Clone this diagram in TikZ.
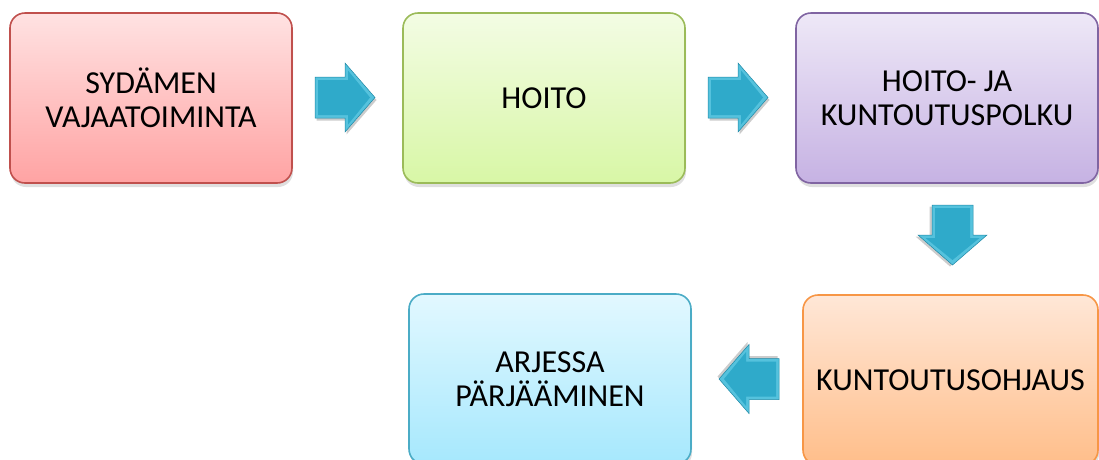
\documentclass[tikz,border=0pt]{standalone}
\usepackage{fontspec}
\setmainfont{Carlito}
\usetikzlibrary{shadows}
\definecolor{redtop}{HTML}{FFE2E2}
\definecolor{redbot}{HTML}{FFA3A3}
\definecolor{redline}{HTML}{C0504D}
\definecolor{grntop}{HTML}{F3FCE4}
\definecolor{grnbot}{HTML}{D8F7A6}
\definecolor{grnline}{HTML}{9BBB59}
\definecolor{purtop}{HTML}{EEE8F7}
\definecolor{purbot}{HTML}{C6B2E3}
\definecolor{purline}{HTML}{8064A2}
\definecolor{orgtop}{HTML}{FFE7D7}
\definecolor{orgbot}{HTML}{FFBE8A}
\definecolor{orgline}{HTML}{F79646}
\definecolor{blutop}{HTML}{E2F8FF}
\definecolor{blubot}{HTML}{A6E8FD}
\definecolor{bluline}{HTML}{4BACC6}
\definecolor{arrmain}{HTML}{2FAACA}
\definecolor{arrlight}{HTML}{55C2DD}
\definecolor{arrdark}{HTML}{1E88A5}
\begin{document}
\begin{tikzpicture}[x=1pt,y=-1pt,
  box/.style={rounded corners=15pt, line width=1.6pt, inner sep=0pt,
    minimum height=170pt, align=center,
    font=\fontsize{32}{34}\selectfont,
    drop shadow={opacity=0.25, shadow xshift=1pt, shadow yshift=-4pt}},
  barrow/.pic={
    \fill[black,opacity=0.2,shift={(1.5,2.5)}]
      (0,-20.5) -- (30,-20.5) -- (30,-34.5) -- (60,0) -- (30,34.5) -- (30,20.5) -- (0,20.5) -- cycle;
    \fill[arrlight, draw=arrdark, line width=0.5pt]
      (0,-20.5) -- (30,-20.5) -- (30,-34.5) -- (60,0) -- (30,34.5) -- (30,20.5) -- (0,20.5) -- cycle;
    \fill[arrmain]
      (3,-17.5) -- (33,-17.5) -- (33,-27) -- (55,0) -- (33,27) -- (33,17.5) -- (3,17.5) -- cycle;
  }]
\useasboundingbox (0,0) rectangle (1099,459);
\clip (0,0) rectangle (1099,459);
\node[box, minimum width=282pt, draw=redline, top color=redtop, bottom color=redbot]
  (sv) at (151,98) {SYDÄMEN\\VAJAATOIMINTA};
\node[box, minimum width=282pt, draw=grnline, top color=grntop, bottom color=grnbot]
  (ho) at (544,98) {HOITO};
\node[box, minimum width=302pt, draw=purline, top color=purtop, bottom color=purbot]
  (hk) at (947,98) {HOITO- JA\\KUNTOUTUSPOLKU};
\node[box, minimum width=295pt, draw=orgline, top color=orgtop, bottom color=orgbot]
  (ko) at (950.5,380) {KUNTOUTUSOHJAUS};
\node[box, minimum width=282pt, draw=bluline, top color=blutop, bottom color=blubot]
  (ap) at (550,379) {ARJESSA\\PÄRJÄÄMINEN};
\pic at (315,97.5) {barrow};
\pic at (708,97.5) {barrow};
\pic[rotate=-90] at (952.5,205) {barrow};
\pic[rotate=180] at (779,379) {barrow};
\end{tikzpicture}
\end{document}
